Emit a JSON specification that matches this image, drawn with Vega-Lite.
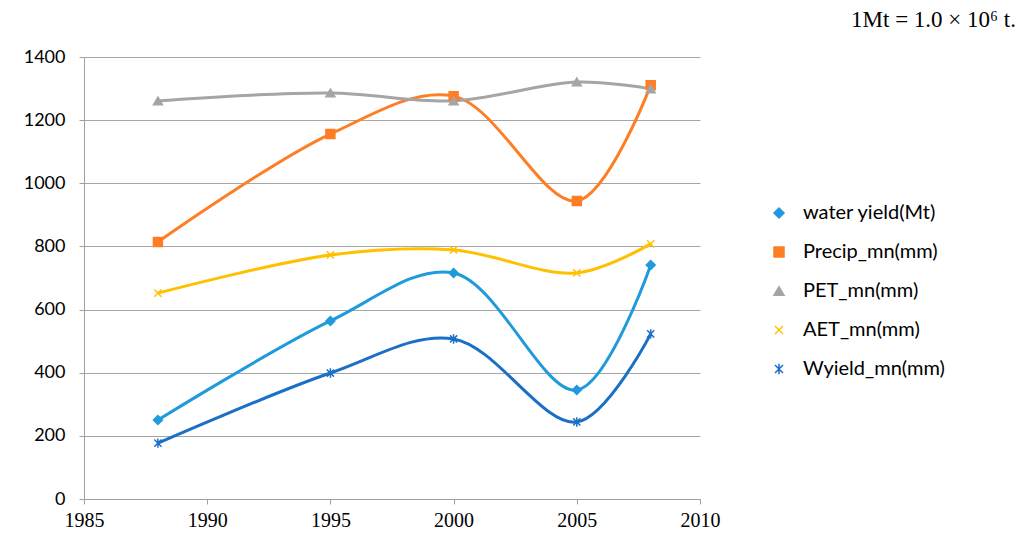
{
  "$schema": "https://vega.github.io/schema/vega-lite/v6.json",
  "width": 616,
  "height": 442,
  "autosize": {"type": "none"},
  "padding": {"left": 84, "top": 57, "right": 324, "bottom": 56},
  "background": "white",
  "title": {
    "text": "1Mt = 1.0 × 10⁶ t.",
    "anchor": "end",
    "frame": "group",
    "dx": 316,
    "offset": 16,
    "font": "Liberation Serif",
    "fontSize": 23,
    "fontWeight": "normal",
    "color": "#000000"
  },
  "config": {
    "view": {"stroke": null},
    "axis": {"gridColor": "#a6a6a6", "domainColor": "#a0a0a0", "tickColor": "#a0a0a0", "labelColor": "#000000", "title": null}
  },
  "data": {
    "values": [
      {"year": 1988, "series": "water yield(Mt)", "value": 250},
      {"year": 1995, "series": "water yield(Mt)", "value": 564},
      {"year": 2000, "series": "water yield(Mt)", "value": 716},
      {"year": 2005, "series": "water yield(Mt)", "value": 345},
      {"year": 2008, "series": "water yield(Mt)", "value": 741},
      {"year": 1988, "series": "Precip_mn(mm)", "value": 814},
      {"year": 1995, "series": "Precip_mn(mm)", "value": 1156},
      {"year": 2000, "series": "Precip_mn(mm)", "value": 1276},
      {"year": 2005, "series": "Precip_mn(mm)", "value": 944},
      {"year": 2008, "series": "Precip_mn(mm)", "value": 1311},
      {"year": 1988, "series": "PET_mn(mm)", "value": 1261},
      {"year": 1995, "series": "PET_mn(mm)", "value": 1286},
      {"year": 2000, "series": "PET_mn(mm)", "value": 1261},
      {"year": 2005, "series": "PET_mn(mm)", "value": 1321},
      {"year": 2008, "series": "PET_mn(mm)", "value": 1299},
      {"year": 1988, "series": "AET_mn(mm)", "value": 652},
      {"year": 1995, "series": "AET_mn(mm)", "value": 773},
      {"year": 2000, "series": "AET_mn(mm)", "value": 789},
      {"year": 2005, "series": "AET_mn(mm)", "value": 716},
      {"year": 2008, "series": "AET_mn(mm)", "value": 808},
      {"year": 1988, "series": "Wyield_mn(mm)", "value": 177},
      {"year": 1995, "series": "Wyield_mn(mm)", "value": 399},
      {"year": 2000, "series": "Wyield_mn(mm)", "value": 507},
      {"year": 2005, "series": "Wyield_mn(mm)", "value": 244},
      {"year": 2008, "series": "Wyield_mn(mm)", "value": 523}
    ]
  },
  "encoding": {
    "x": {
      "field": "year",
      "type": "quantitative",
      "scale": {"domain": [1985, 2010], "zero": false, "nice": false},
      "axis": {
        "values": [1985, 1990, 1995, 2000, 2005, 2010],
        "format": "d",
        "grid": false,
        "tickSize": 5,
        "labelPadding": 6,
        "labelFlush": false,
        "labelFont": "Liberation Serif",
        "labelFontSize": 20
      }
    },
    "y": {
      "field": "value",
      "type": "quantitative",
      "scale": {"domain": [0, 1400], "nice": false},
      "axis": {
        "values": [0, 200, 400, 600, 800, 1000, 1200, 1400],
        "format": "d",
        "grid": true,
        "tickSize": 5,
        "labelPadding": 14,
        "labelFont": "Lato",
        "labelFontSize": 18
      }
    }
  },
  "layer": [
    {
      "mark": {"type": "line", "interpolate": "catmull-rom", "strokeWidth": 3},
      "encoding": {
        "color": {
          "field": "series",
          "type": "nominal",
          "scale": {
            "domain": ["water yield(Mt)", "Precip_mn(mm)", "PET_mn(mm)", "AET_mn(mm)", "Wyield_mn(mm)"],
            "range": ["#1f9bdb", "#fd7e25", "#a5a5a5", "#ffc000", "#1b6fc6"]
          },
          "legend": {
            "title": null,
            "orient": "none",
            "legendX": 685,
            "legendY": 146,
            "padding": 0,
            "symbolSize": 100,
            "symbolStrokeWidth": 1.5,
            "labelFont": "Lato",
            "labelFontSize": 20,
            "labelColor": "#000000",
            "labelOffset": 14,
            "rowPadding": 19
          }
        }
      }
    },
    {
      "mark": {"type": "point", "size": 80, "strokeWidth": 1.5, "opacity": 1},
      "encoding": {
        "fill": {
          "field": "series",
          "type": "nominal",
          "scale": {
            "domain": ["water yield(Mt)", "Precip_mn(mm)", "PET_mn(mm)", "AET_mn(mm)", "Wyield_mn(mm)"],
            "range": ["#1f9bdb", "#fd7e25", "#a5a5a5", "#ffc000", "#1b6fc6"]
          },
          "legend": null
        },
        "stroke": {
          "field": "series",
          "type": "nominal",
          "scale": {
            "domain": ["water yield(Mt)", "Precip_mn(mm)", "PET_mn(mm)", "AET_mn(mm)", "Wyield_mn(mm)"],
            "range": ["#1f9bdb", "#fd7e25", "#a5a5a5", "#ffc000", "#1b6fc6"]
          },
          "legend": null
        },
        "shape": {
          "field": "series",
          "type": "nominal",
          "scale": {
            "domain": ["water yield(Mt)", "Precip_mn(mm)", "PET_mn(mm)", "AET_mn(mm)", "Wyield_mn(mm)"],
            "range": ["diamond", "square", "triangle-up", "M-0.8,-0.8L0.8,0.8M-0.8,0.8L0.8,-0.8", "M-0.8,-0.8L0.8,0.8M-0.8,0.8L0.8,-0.8M0,-1.05L0,1.05"]
          },
          "legend": null
        }
      }
    }
  ]
}
